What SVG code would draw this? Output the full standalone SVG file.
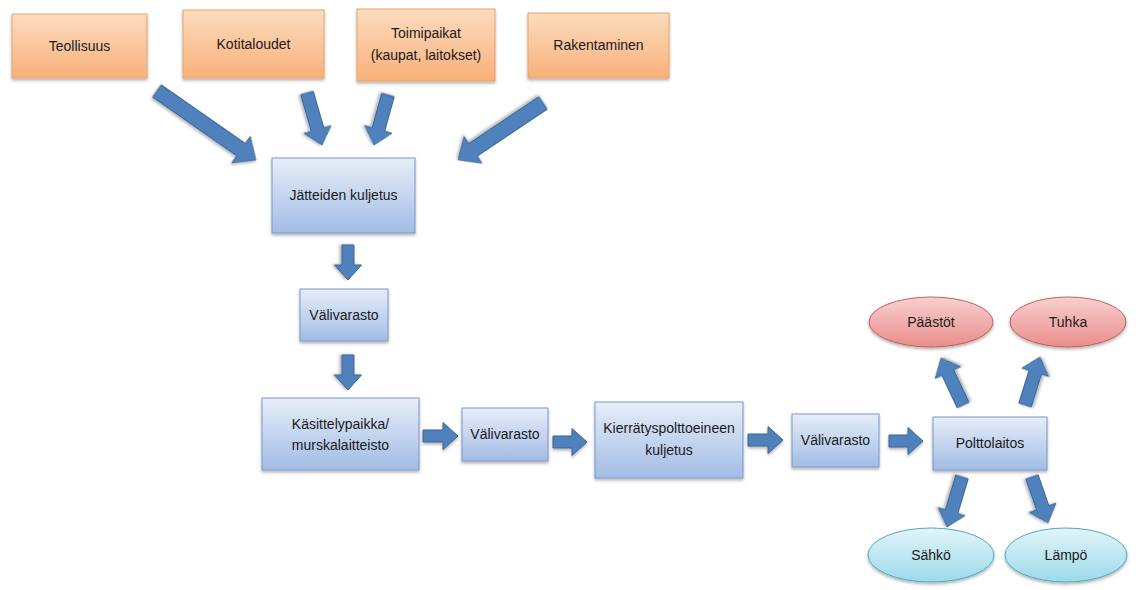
<svg xmlns="http://www.w3.org/2000/svg" width="1136" height="590" viewBox="0 0 1136 590">
<defs>
<linearGradient id="gO" x1="0" y1="0" x2="0" y2="1"><stop offset="0" stop-color="#FCDCBF"/><stop offset="1" stop-color="#F9B07A"/></linearGradient>
<linearGradient id="gB" x1="0" y1="0" x2="0" y2="1"><stop offset="0" stop-color="#E6EEF9"/><stop offset="1" stop-color="#A2BCE5"/></linearGradient>
<linearGradient id="gR" x1="0" y1="0" x2="0" y2="1"><stop offset="0" stop-color="#F8D0CF"/><stop offset="1" stop-color="#E98E8C"/></linearGradient>
<linearGradient id="gC" x1="0" y1="0" x2="0" y2="1"><stop offset="0" stop-color="#E2F5F9"/><stop offset="1" stop-color="#9CD9E8"/></linearGradient>
<filter id="sh" x="-20%" y="-20%" width="140%" height="150%"><feDropShadow dx="0" dy="2" stdDeviation="1.5" flood-color="#000" flood-opacity="0.3"/></filter>
</defs>
<style>
.o{fill:url(#gO);stroke:#E9A26C;stroke-width:1;filter:url(#sh)}
.b{fill:url(#gB);stroke:#7A98C6;stroke-width:1;filter:url(#sh)}
.r{fill:url(#gR);stroke:#C45E5B;stroke-width:1;filter:url(#sh)}
.c{fill:url(#gC);stroke:#4FA9C2;stroke-width:1;filter:url(#sh)}
text{font-family:"Liberation Sans",Arial,sans-serif;font-size:14px;fill:#1a1a1a;text-anchor:middle}
.a{fill:#4F81BD;stroke:#3A6596;stroke-width:1;filter:url(#sh)}
</style>
<rect width="1136" height="590" fill="#fff"/>
<g id="teollisuus"><rect class="o" x="12" y="14" width="135" height="64"/><text x="79.5" y="51">Teollisuus</text></g>
<g id="kotitaloudet"><rect class="o" x="183" y="10" width="141" height="68"/><text x="253.5" y="49">Kotitaloudet</text></g>
<g id="toimipaikat"><rect class="o" x="357" y="9" width="138" height="72"/><text x="426" y="38">Toimipaikat</text><text x="426" y="60">(kaupat, laitokset)</text></g>
<g id="rakentaminen"><rect class="o" x="528" y="13" width="141" height="65"/><text x="598.5" y="50">Rakentaminen</text></g>
<g id="jatteiden"><rect class="b" x="272" y="158" width="143" height="75"/><text x="343.5" y="200">Jätteiden kuljetus</text></g>
<g id="valivarasto1"><rect class="b" x="300" y="289" width="88" height="52"/><text x="344" y="320">Välivarasto</text></g>
<g id="kasittely"><rect class="b" x="262" y="398" width="157" height="72"/><text x="340.5" y="429">Käsittelypaikka/</text><text x="340.5" y="450">murskalaitteisto</text></g>
<g id="valivarasto2"><rect class="b" x="462" y="408" width="86" height="53"/><text x="505" y="439">Välivarasto</text></g>
<g id="kierratys"><rect class="b" x="595" y="402" width="148" height="76"/><text x="669" y="433">Kierrätyspolttoeineen</text><text x="669" y="455">kuljetus</text></g>
<g id="valivarasto3"><rect class="b" x="792" y="414" width="87" height="53"/><text x="835.5" y="445">Välivarasto</text></g>
<g id="polttolaitos"><rect class="b" x="933" y="417" width="114" height="53"/><text x="990" y="448">Polttolaitos</text></g>
<g id="paastot"><ellipse class="r" cx="931" cy="322" rx="62" ry="25"/><text x="931" y="327">Päästöt</text></g>
<g id="tuhka"><ellipse class="r" cx="1068" cy="322" rx="58" ry="25"/><text x="1068" y="327">Tuhka</text></g>
<g id="sahko"><ellipse class="c" cx="931" cy="555" rx="63" ry="27"/><text x="931" y="560">Sähkö</text></g>
<g id="lampo"><ellipse class="c" cx="1066" cy="555" rx="61" ry="27"/><text x="1066" y="560">Lämpö</text></g>
<g id="connectors">
<path class="a" transform="translate(157,91) rotate(34.9)" d="M0,-7.5 L102.7,-7.5 L102.7,-16 L120.7,0 L102.7,16 L102.7,7.5 L0,7.5 Z"/>
<path class="a" transform="translate(307,93) rotate(73.9)" d="M0,-6.5 L38.1,-6.5 L38.1,-14 L54.1,0 L38.1,14 L38.1,6.5 L0,6.5 Z"/>
<path class="a" transform="translate(388,95) rotate(105.6)" d="M0,-6.5 L35.9,-6.5 L35.9,-14 L51.9,0 L35.9,14 L35.9,6.5 L0,6.5 Z"/>
<path class="a" transform="translate(543,103) rotate(146.2)" d="M0,-7.5 L84.3,-7.5 L84.3,-16 L102.3,0 L84.3,16 L84.3,7.5 L0,7.5 Z"/>
<path class="a" transform="translate(348,245) rotate(90)" d="M0,-6 L20,-6 L20,-13.5 L35,0 L20,13.5 L20,6 L0,6 Z"/>
<path class="a" transform="translate(348,355) rotate(90)" d="M0,-6 L20,-6 L20,-13.5 L35,0 L20,13.5 L20,6 L0,6 Z"/>
<path class="a" transform="translate(423,436)" d="M0,-6 L20,-6 L20,-13.5 L35,0 L20,13.5 L20,6 L0,6 Z"/>
<path class="a" transform="translate(553,442)" d="M0,-6 L19,-6 L19,-13.5 L34,0 L19,13.5 L19,6 L0,6 Z"/>
<path class="a" transform="translate(748,440)" d="M0,-6 L20,-6 L20,-13.5 L35,0 L20,13.5 L20,6 L0,6 Z"/>
<path class="a" transform="translate(889,441)" d="M0,-6 L19,-6 L19,-13.5 L34,0 L19,13.5 L19,6 L0,6 Z"/>
<path class="a" transform="translate(963,405) rotate(-115.1)" d="M0,-6.5 L35.9,-6.5 L35.9,-14 L51.9,0 L35.9,14 L35.9,6.5 L0,6.5 Z"/>
<path class="a" transform="translate(1025,405) rotate(-72.6)" d="M0,-6.5 L34.3,-6.5 L34.3,-14 L50.3,0 L34.3,14 L34.3,6.5 L0,6.5 Z"/>
<path class="a" transform="translate(962,477) rotate(106.7)" d="M0,-6.5 L36.2,-6.5 L36.2,-14 L52.2,0 L36.2,14 L36.2,6.5 L0,6.5 Z"/>
<path class="a" transform="translate(1032,477) rotate(70.8)" d="M0,-6.5 L32.7,-6.5 L32.7,-14 L48.7,0 L32.7,14 L32.7,6.5 L0,6.5 Z"/>
</g>
</svg>
